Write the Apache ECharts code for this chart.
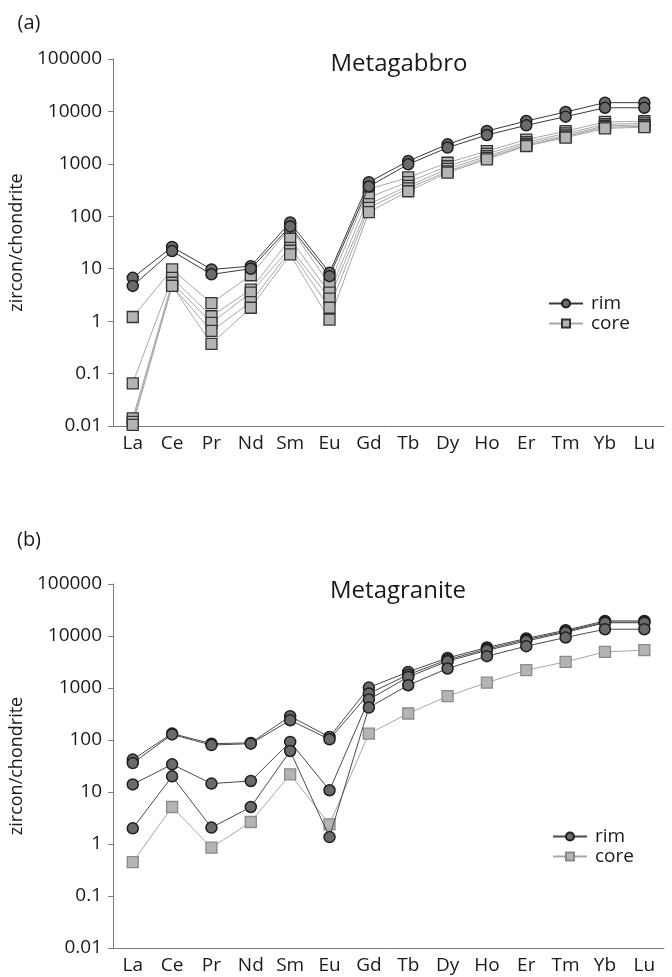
<!DOCTYPE html>
<html>
<head>
<meta charset="utf-8">
<script src="https://cdn.jsdelivr.net/npm/echarts@6/dist/echarts.min.js"></script>
<style>
  html, body { margin: 0; padding: 0; background: #fff; }
  #main { width: 672px; height: 977px; }
</style>
</head>
<body>
<div id="main"></div>
<script>
// REE patterns, chondrite normalised
var elements = ['La','Ce','Pr','Nd','Sm','Eu','Gd','Tb','Dy','Ho','Er','Tm','Yb','Lu'];

// (a) metagabbro
var gabbroRim1  = [6.7, 26, 9.7, 11.2, 76, 8.4, 447, 1130, 2360, 4230, 6560, 9750, 14700, 14700];
var gabbroRim2  = [4.7, 21.7, 7.8, 10, 64, 7.2, 370, 980, 2040, 3550, 5430, 7950, 11750, 11750];
var gabbroCore1 = [1.2, 9.7, 2.2, 7.5, 61, 5.0, 330, 550, 1050, 1750, 2900, 4200, 6300, 6500];
var gabbroCore2 = [0.065, 6.7, 1.24, 4.0, 37, 3.5, 230, 450, 900, 1550, 2600, 3800, 5700, 5900];
var gabbroCore3 = [0.014, 5.4, 0.93, 3.5, 25, 2.7, 170, 380, 800, 1400, 2400, 3500, 5300, 5500];
var gabbroCore4 = [0.012, 4.7, 0.65, 2.3, 22, 1.8, 145, 340, 720, 1300, 2250, 3300, 5000, 5200];
var gabbroCore5 = [0.0105, 4.7, 0.37, 1.8, 18.7, 1.07, 120, 300, 680, 1220, 2190, 3160, 4750, 5000];

// (b) metagranite
var graniteRim1 = [42, 133, 85, 88, 286, 114, 1020, 2040, 3790, 6010, 8950, 12900, 19500, 19500];
var graniteRim2 = [36, 128, 80, 85, 240, 103, 783, 1800, 3500, 5600, 8500, 12300, 18500, 18500];
var graniteRim3 = [14, 34, 14.5, 16.3, 92, 10.8, 600, 1630, 3270, 5300, 8000, 11800, 18000, 18000];
var graniteRim4 = [2.0, 20, 2.07, 5.15, 61.5, 1.36, 421, 1130, 2370, 4090, 6370, 9360, 13500, 13500];
var graniteCore = [0.45, 5.15, 0.85, 2.65, 21.9, 2.39, 133, 323, 695, 1270, 2200, 3180, 4950, 5330];

var FONT = '"Open Sans", sans-serif';
var TXT = '#1a1a1a';

function xAx(idx){
    return {
        type: 'category', gridIndex: idx, data: elements,
        axisLine: {lineStyle: {color: '#7a7a7a', width: 1}},
        axisTick: {alignWithLabel: true, length: 4, lineStyle: {color: '#7a7a7a'}},
        axisLabel: {margin: 8, fontSize: 19, fontFamily: FONT, color: TXT},
        splitLine: {show: false}
    };
}
function yAx(idx){
    return {
        type: 'log', logBase: 10, gridIndex: idx, min: 0.01, max: 100000, interval: 1,
        name: 'zircon/chondrite', nameLocation: 'middle', nameGap: 70,
        nameTextStyle: {fontSize: 18, fontFamily: FONT, color: TXT},
        axisLine: {show: true, lineStyle: {color: '#7a7a7a', width: 1}},
        axisTick: {show: true, length: 5, lineStyle: {color: '#7a7a7a'}},
        axisLabel: {margin: 11, fontSize: 19, fontFamily: FONT, color: TXT,
            formatter: function(v){ return String(+(+v).toPrecision(4)); }},
        splitLine: {show: false}
    };
}
function rim(name, data, idx, lineColor){
    return {
        name: name, type: 'line', xAxisIndex: idx, yAxisIndex: idx, data: data,
        symbol: 'circle', symbolSize: 11, z: 3,
        lineStyle: {color: lineColor, width: 1},
        itemStyle: {color: '#6b6b6b', borderColor: '#1e1e1e', borderWidth: 1.5},
        emphasis: {disabled: true}, animation: false
    };
}
function core(name, data, idx, borderColor){
    return {
        name: name, type: 'line', xAxisIndex: idx, yAxisIndex: idx, data: data,
        symbol: 'rect', symbolSize: 11, z: 2,
        lineStyle: {color: '#a8a8a8', width: 1},
        itemStyle: {color: '#b4b4b4', borderColor: borderColor, borderWidth: 1.3},
        emphasis: {disabled: true}, animation: false
    };
}
function legendFor(names, left, top){
    return {
        data: names, orient: 'vertical', left: left, top: top,
        itemWidth: 34, itemHeight: 10, itemGap: 1, selectedMode: false,
        textStyle: {fontSize: 19, fontFamily: FONT, color: TXT, padding: [0,0,0,3]},
        formatter: function(n){ return n.trim(); }
    };
}

var myChart = echarts.init(document.getElementById('main'));
var option = {
    backgroundColor: '#fff',
    animation: false,
    grid: [
        {left: 112, top: 59, width: 552, height: 367},
        {left: 112, top: 584, width: 552, height: 364}
    ],
    xAxis: [xAx(0), xAx(1)],
    yAxis: [yAx(0), yAx(1)],
    legend: [legendFor(['rim','core'], 543, 289), legendFor(['rim ','core '], 547, 822)],
    graphic: [
        {type: 'text', x: 29, y: 23, style: {text: '(a)', font: '20px ' + FONT, fill: TXT, textAlign: 'center', textVerticalAlign: 'middle'}},
        {type: 'text', x: 29, y: 540, style: {text: '(b)', font: '20px ' + FONT, fill: TXT, textAlign: 'center', textVerticalAlign: 'middle'}},
        {type: 'text', x: 399, y: 64, style: {text: 'Metagabbro', font: '24px ' + FONT, fill: TXT, textAlign: 'center', textVerticalAlign: 'middle'}},
        {type: 'text', x: 398, y: 591, style: {text: 'Metagranite', font: '24px ' + FONT, fill: TXT, textAlign: 'center', textVerticalAlign: 'middle'}}
    ],
    series: [
        core('core', gabbroCore1, 0, '#333'),
        core('core', gabbroCore2, 0, '#333'),
        core('core', gabbroCore3, 0, '#333'),
        core('core', gabbroCore4, 0, '#333'),
        core('core', gabbroCore5, 0, '#333'),
        rim('rim', gabbroRim1, 0, '#3a3a3a'),
        rim('rim', gabbroRim2, 0, '#3a3a3a'),
        core('core ', graniteCore, 1, '#8a8a8a'),
        rim('rim ', graniteRim1, 1, '#4a4a4a'),
        rim('rim ', graniteRim2, 1, '#4a4a4a'),
        rim('rim ', graniteRim3, 1, '#4a4a4a'),
        rim('rim ', graniteRim4, 1, '#4a4a4a')
    ]
};
myChart.setOption(option);
</script>
</body>
</html>
